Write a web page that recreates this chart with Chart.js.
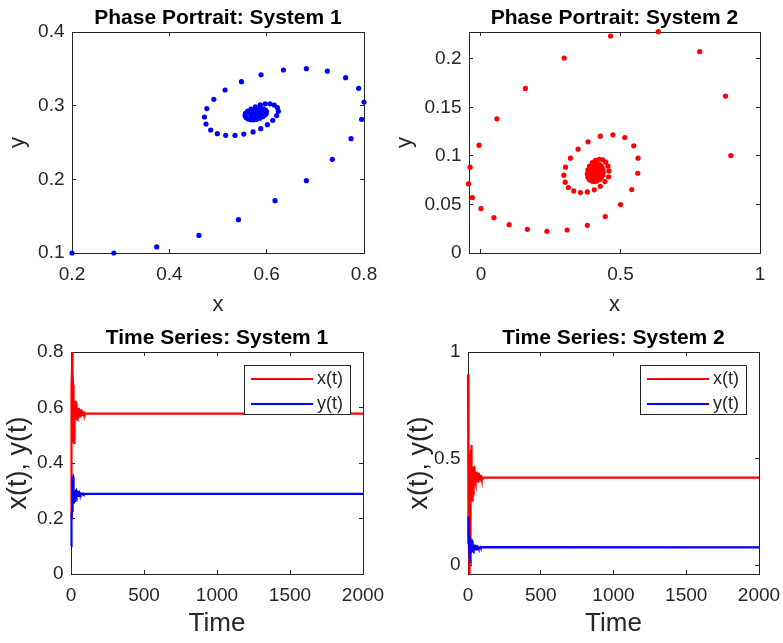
<!DOCTYPE html>
<html><head><meta charset="utf-8">
<script src="https://cdn.jsdelivr.net/npm/chart.js@4.4.1/dist/chart.umd.min.js"></script>
<style>
html,body{margin:0;padding:0;background:#fff;}
#wrap{position:relative;width:783px;height:643px;overflow:hidden;background:#fff;}
canvas{position:absolute;}
</style></head><body>
<div id="wrap">
<canvas id="c1" width="391" height="320" style="left:0px;top:0px;width:391px;height:320px"></canvas>
<canvas id="c2" width="399" height="320" style="left:384px;top:0px;width:399px;height:320px"></canvas>
<canvas id="c3" width="391" height="323" style="left:0px;top:320px;width:391px;height:323px"></canvas>
<canvas id="c4" width="391" height="323" style="left:392px;top:320px;width:391px;height:323px"></canvas>
</div>
<script>
const FONT = "'Liberation Sans', Arial, Helvetica, sans-serif";

// ---- System 1 trajectory (read from phase portrait) ----
const sys1X = [0.2,0.286,0.374,0.4608,0.542,0.6173,0.6816,0.7349,0.7733,0.7951,0.8,0.789,0.7623,0.7247,0.6816,0.6344,0.5885,0.5482,0.5146,0.4914,0.477,0.4722,0.4753,0.485,0.4986,0.5158,0.535,0.5529,0.5721,0.5878,0.6015,0.6125,
  0.6205,0.6239,0.622,0.6155,0.607,0.597,0.587,0.577,0.568,0.561,0.5565,0.5555,0.5575,0.5615,0.567,0.573,0.5795,0.586,0.592,0.5965,0.599,0.5995,0.5975,0.5935,0.588,0.582,0.5765,0.572,0.5685,0.567,0.5675,0.5705,0.5745,0.579,0.5835,0.587,0.589,0.5895,0.5882,0.5855,0.5818,0.578,0.575,0.5732,0.573,0.5745,0.577,0.58,0.5825,0.584,0.5842,0.583,0.581,0.5788,0.577,0.5765,0.5772,0.5788,0.5805,0.5812,0.5805,0.579,0.578];
const sys1Y = [0.1,0.1,0.1082,0.1238,0.1452,0.171,0.1982,0.2272,0.2552,0.2815,0.305,0.3235,0.338,0.347,0.3502,0.3484,0.342,0.3326,0.3213,0.3086,0.296,0.2846,0.2751,0.267,0.262,0.2598,0.2598,0.2615,0.2643,0.2688,0.2742,0.2801,
  0.2865,0.2925,0.2975,0.3008,0.3025,0.3025,0.301,0.2985,0.2955,0.2925,0.2895,0.2865,0.284,0.282,0.281,0.2808,0.2815,0.283,0.285,0.2872,0.2895,0.292,0.294,0.2955,0.2962,0.296,0.295,0.2935,0.2915,0.2895,0.2875,0.286,0.2852,0.2852,0.2858,0.287,0.2885,0.29,0.2912,0.292,0.2922,0.2918,0.291,0.2898,0.2885,0.2876,0.2871,0.2872,0.2877,0.2886,0.2895,0.2902,0.2905,0.2903,0.2897,0.289,0.2884,0.2881,0.2883,0.2889,0.2894,0.2895,0.289];
const sys1EqX = 0.578;
const sys1EqY = 0.289;

// ---- System 2 trajectory ----
const sys2X = [0.8955,0.8765,0.7838,0.6354,0.4644,0.2981,0.1591,0.057,-0.0071,-0.0392,-0.0451,-0.0309,0.0,0.0463,0.101,0.1663,0.2363,0.3088,0.3812,0.4454,0.5,0.5404,0.5618,0.563,0.5475,0.5154,0.4727,0.4276,0.3836,0.348,0.3207,0.3029,0.2969,0.3017,0.3135,0.3325,0.3563,0.3812,0.4062,0.4276,0.4442,0.4572,
  0.4585,0.455,0.447,0.436,0.424,0.411,0.399,0.389,0.383,0.381,0.383,0.389,0.397,0.406,0.415,0.424,0.431,0.436,0.438,0.437,0.433,0.427,0.42,0.412,0.404,0.397,0.393,0.392,0.394,0.398,0.404,0.41,0.416,0.421,0.424,0.425,0.424,0.421,0.417,0.412,0.407,0.403,0.4,0.4,0.402,0.405,0.409,0.413,0.416,0.417,0.416,0.413,0.41,0.407,0.405,0.405,0.407,0.41,0.412,0.412,0.41];
const sys2Y = [0.1003,0.1615,0.2072,0.2278,0.2234,0.2007,0.1694,0.1381,0.111,0.0883,0.0711,0.057,0.0457,0.0364,0.0292,0.0244,0.0223,0.0237,0.0285,0.0375,0.0498,0.0653,0.0821,0.0976,0.1103,0.1189,0.1216,0.1203,0.1144,0.1069,0.0976,0.0883,0.0801,0.0729,0.0674,0.0639,0.0622,0.0629,0.065,0.0687,0.0735,0.0784,
  0.0845,0.0895,0.0935,0.096,0.0965,0.0955,0.093,0.0895,0.0855,0.0815,0.078,0.0755,0.074,0.0735,0.074,0.0755,0.0775,0.08,0.083,0.086,0.0885,0.0905,0.0915,0.0912,0.09,0.088,0.0855,0.083,0.0808,0.079,0.078,0.0778,0.0785,0.0797,0.0812,0.0828,0.0845,0.0858,0.0866,0.0868,0.0865,0.0855,0.0843,0.0832,0.0822,0.0815,0.0813,0.0817,0.0825,0.0834,0.0843,0.0849,0.0851,0.0848,0.0842,0.0836,0.0831,0.083,0.0833,0.0838,0.0841];
const sys2EqX = 0.41;
const sys2EqY = 0.083;

const timeEnd = 2000;

// ---- Tick labels ----
const p1XTicks = [0.2, 0.4, 0.6, 0.8];
const p1YTicks = [0.1, 0.2, 0.3, 0.4];
const p2XTicks = [0, 0.5, 1];
const p2YTicks = [0, 0.05, 0.1, 0.15, 0.2];
const tXTicks = [0, 500, 1000, 1500, 2000];
const t1YTicks = [0, 0.2, 0.4, 0.6, 0.8];
const t2YTicks = [0, 0.5, 1];

const seriesLabels = ['x(t)', 'y(t)'];

// ---------------------------------------------------------
const boxLegend = {
  id: 'boxLegend',
  afterDatasetsDraw(chart, args, o) {
    if (!o || !o.display) return;
    const ctx = chart.ctx, a = chart.chartArea;
    const left = Math.round(a.right - o.right - o.width), top = Math.round(a.top + o.top);
    ctx.save();
    ctx.fillStyle = '#ffffff';
    ctx.fillRect(left, top, o.width, o.height);
    ctx.strokeStyle = '#262626'; ctx.lineWidth = 1;
    ctx.strokeRect(left + 0.5, top + 0.5, o.width - 1, o.height - 1);
    ctx.font = o.font; ctx.textBaseline = 'middle'; ctx.textAlign = 'left';
    chart.data.datasets.forEach((ds, i) => {
      const y = top + o.rowTop + i * o.rowGap;
      ctx.strokeStyle = ds.borderColor; ctx.lineWidth = 2;
      ctx.beginPath(); ctx.moveTo(left + o.lineStart, y); ctx.lineTo(left + o.lineEnd, y); ctx.stroke();
      ctx.fillStyle = '#262626';
      ctx.fillText(ds.label, left + o.textX, y);
    });
    ctx.restore();
  }
};

function build(id, c) {
  const tickFont = {family: FONT, size: 19};
  const grid = {drawOnChartArea: false, drawTicks: true, tickLength: -4, color: '#262626', lineWidth: 1};
  const border = {display: true, color: '#262626', width: 1};
  const setTicks = arr => (s => { s.ticks = arr.map(v => ({value: v})); });
  const fmt = v => String(v);
  const noPad = s => { s.paddingLeft = 0; s.paddingRight = 0; s.paddingTop = 0; s.paddingBottom = 0; };
  return new Chart(document.getElementById(id), {
    type: 'scatter',
    data: {datasets: c.datasets},
    options: {
      responsive: false, animation: false, devicePixelRatio: 1,
      layout: {padding: {left: 0, top: 0, right: c.w - c.area.right, bottom: 0}},
      plugins: {
        legend: {display: false}, tooltip: {enabled: false},
        title: {display: true, text: c.title, fullSize: false, color: '#000000',
          font: {family: FONT, size: 21, weight: 'bold'}, padding: {top: c.area.top - 26.2, bottom: 1}},
        boxLegend: c.legend || {display: false}
      },
      scales: {
        x: {type: 'linear', position: 'bottom', min: c.xMin, max: c.xMax,
          afterBuildTicks: setTicks(c.xTicks), afterFit: s => { s.height = c.h - c.area.bottom; noPad(s); },
          ticks: {font: tickFont, color: '#262626', padding: 14.3, maxRotation: 0, autoSkip: false, callback: fmt},
          grid: grid, border: border,
          title: {display: true, text: c.xTitle, color: '#262626', font: {family: FONT, size: c.xTitleSize}, padding: {top: 0, bottom: c.xTitlePad}}},
        y: {type: 'linear', position: 'left', min: c.yMin, max: c.yMax,
          afterBuildTicks: setTicks(c.yTicks), afterFit: s => { s.width = c.area.left; noPad(s); },
          ticks: {font: tickFont, color: '#262626', padding: 11.5, autoSkip: false, callback: fmt},
          grid: grid, border: border,
          title: {display: true, text: c.yTitle, color: '#262626', font: {family: FONT, size: c.yTitleSize}, padding: {top: c.yTitlePad, bottom: 0}}},
        x2: {type: 'linear', position: 'top', min: c.xMin, max: c.xMax,
          afterBuildTicks: setTicks(c.xTicks), afterFit: s => { s.height = 0; noPad(s); },
          ticks: {display: false}, grid: grid, border: border},
        y2: {type: 'linear', position: 'right', min: c.yMin, max: c.yMax,
          afterBuildTicks: setTicks(c.yTicks), afterFit: s => { s.width = 0; noPad(s); },
          ticks: {display: false}, grid: grid, border: border}
      }
    },
    plugins: [boxLegend]
  });
}

function phaseSet(xs, ys, color, label) {
  return {label: label, data: xs.map((x, i) => ({x: x, y: ys[i]})), showLine: false,
    pointRadius: 2.6, pointBorderWidth: 0, pointBackgroundColor: color, backgroundColor: color,
    borderColor: color, clip: false};
}
function timeSet(vals, eq, color, label, order) {
  const pts = vals.map((v, i) => ({x: i, y: v}));
  pts.push({x: timeEnd, y: eq});
  return {label: label, data: pts, showLine: true, pointRadius: 0, borderWidth: 2.2,
    borderColor: color, backgroundColor: color, tension: 0, order: order, clip: false};
}

const legendOpts = {display: true, width: 107, height: 50, right: 12, top: 13, rowTop: 14, rowGap: 25,
  lineStart: 7, lineEnd: 69, textX: 73, font: "18px " + FONT};

build('c1', {w: 391, h: 320, area: {left: 72, right: 364, top: 32, bottom: 253},
  xMin: 0.2, xMax: 0.8, yMin: 0.1, yMax: 0.4, xTicks: p1XTicks, yTicks: p1YTicks,
  title: 'Phase Portrait: System 1', xTitle: 'x', yTitle: 'y', xTitleSize: 22, yTitleSize: 22,
  xTitlePad: 2, yTitlePad: 5,
  datasets: [phaseSet(sys1X, sys1Y, '#0000ff', 'System 1')]});

build('c2', {w: 399, h: 320, area: {left: 85, right: 376, top: 32, bottom: 253},
  xMin: -0.043, xMax: 1, yMin: 0, yMax: 0.2275, xTicks: p2XTicks, yTicks: p2YTicks,
  title: 'Phase Portrait: System 2', xTitle: 'x', yTitle: 'y', xTitleSize: 22, yTitleSize: 22,
  xTitlePad: 2, yTitlePad: 8,
  datasets: [phaseSet(sys2X, sys2Y, '#ff0000', 'System 2')]});

build('c3', {w: 391, h: 323, area: {left: 71, right: 363, top: 32, bottom: 254},
  xMin: 0, xMax: 2000, yMin: 0, yMax: 0.8, xTicks: tXTicks, yTicks: t1YTicks,
  title: 'Time Series: System 1', xTitle: 'Time', yTitle: 'x(t), y(t)', xTitleSize: 26, yTitleSize: 27,
  xTitlePad: 4, yTitlePad: 2, legend: legendOpts,
  datasets: [timeSet(sys1X, sys1EqX, '#ff0000', seriesLabels[0], 1), timeSet(sys1Y, sys1EqY, '#0000ff', seriesLabels[1], 0)]});

build('c4', {w: 391, h: 323, area: {left: 76, right: 367, top: 32, bottom: 254},
  xMin: 0, xMax: 2000, yMin: -0.042, yMax: 1, xTicks: tXTicks, yTicks: t2YTicks,
  title: 'Time Series: System 2', xTitle: 'Time', yTitle: 'x(t), y(t)', xTitleSize: 26, yTitleSize: 27,
  xTitlePad: 4, yTitlePad: 11, legend: legendOpts,
  datasets: [timeSet(sys2X, sys2EqX, '#ff0000', seriesLabels[0], 1), timeSet(sys2Y, sys2EqY, '#0000ff', seriesLabels[1], 0)]});
</script>
</body></html>
